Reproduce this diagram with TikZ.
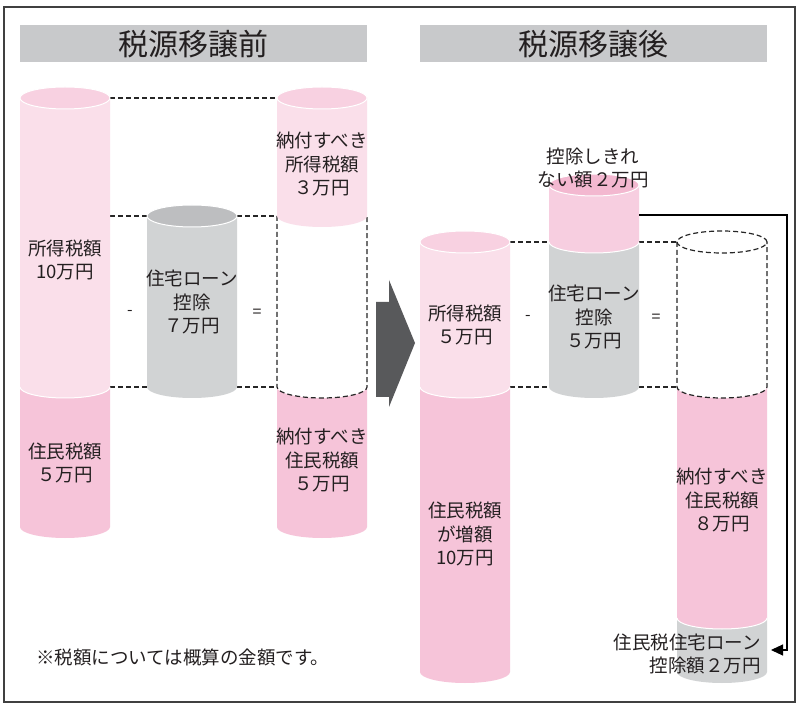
\documentclass[tikz,border=0pt]{standalone}
\usepackage{fontspec}
\setmainfont{Noto Sans CJK JP}
\usetikzlibrary{arrows.meta}
\definecolor{pinkL}{HTML}{FADFEA}
\definecolor{pinkLtop}{HTML}{F8D1E1}
\definecolor{pinkD}{HTML}{F6C4D9}
\definecolor{pinkM}{HTML}{F7CEE0}
\definecolor{pinkMtop}{HTML}{F3B8D0}
\definecolor{grayB}{HTML}{D1D3D4}
\definecolor{grayT}{HTML}{BDBEC0}
\definecolor{barG}{HTML}{C8C9CB}
\definecolor{arrG}{HTML}{58595B}
\definecolor{txt}{HTML}{231F20}
\newcommand{\cylseg}[4]{% xl, ytop, ybot, color
  \fill[#4] (#1,-#2) -- (#1,-#3) arc[start angle=180,end angle=360,x radius=45,y radius=11] -- (#1+90,-#2) -- cycle;}
\newcommand{\cylline}[2]{% xl, y : white boundary arc
  \draw[white, line width=1pt] (#1,-#2) arc[start angle=180,end angle=360,x radius=45,y radius=11];}
\newcommand{\cyltop}[3]{% xl, y, color
  \filldraw[fill=#3, draw=white, line width=1pt] (#1+45,-#2) ellipse[x radius=45,y radius=11];}
\tikzset{
  dsh/.style={draw=black!85, line width=1.2pt, dash pattern=on 5pt off 3pt},
  lbl/.style={text=txt, align=center, font=\fontsize{18.5}{23.5}\selectfont, inner sep=0pt},
  ttl/.style={text=txt, font=\fontsize{30}{34}\selectfont, inner sep=0pt},
  opr/.style={text=txt, font=\fontsize{16}{18}\selectfont, inner sep=0pt},
  bar/.style={fill=barG, draw=none}
}
\begin{document}
\begin{tikzpicture}[x=1pt,y=1pt]
\useasboundingbox (0,0) rectangle (796,-703);
\fill[white] (0,0) rectangle (796,-703);
\draw[draw=black!75, line width=1.2pt] (4,-7) rectangle (795,-702);

% title bars
\fill[bar] (20,-25) rectangle (367,-62);
\fill[bar] (420,-25) rectangle (767,-62);
\node[ttl] (t1) at (193.5,-44) {税源移譲前};
\node[ttl] (t2) at (593.5,-44) {税源移譲後};

% ===== BEFORE =====
\draw[dsh] (110,-98) -- (277,-98);
\draw[dsh] (110,-216) -- (147,-216);
\draw[dsh] (237,-216) -- (277,-216);
\draw[dsh] (110,-387) -- (147,-387);
\draw[dsh] (237,-387) -- (277,-387);

% left cylinder
\cylseg{20}{387}{527}{pinkD}
\cylseg{20}{98}{387}{pinkL}
\cylline{20}{387}
\cyltop{20}{98}{pinkLtop}

% gray cylinder
\cylseg{147}{216}{387}{grayB}
\cyltop{147}{216}{grayT}

% right cylinder (before)
\cylseg{277}{387}{527}{pinkD}
\cylseg{277}{216}{387}{white}
\draw[dsh] (277,-216) -- (277,-387) arc[start angle=180,end angle=360,x radius=45,y radius=11] -- (367,-216);
\cylseg{277}{98}{216}{pinkL}
\cyltop{277}{98}{pinkLtop}

% labels before
\node[lbl] (l1a) at (65,-260) {所得税額\\10万円};
\node[lbl] (l1b) at (65,-463) {住民税額\\５万円};
\node[lbl] (g1) at (192,-302) {住宅ローン\\控除\\７万円};
\node[lbl] (r1a) at (322,-164) {納付すべき\\所得税額\\３万円};
\node[lbl] (r1b) at (322,-460) {納付すべき\\住民税額\\５万円};
\node[opr] (m1) at (130,-313) {-};
\node[opr] (e1) at (257,-313) {=};

% big arrow
\fill[arrG] (376,-302) -- (389,-302) -- (389,-280) -- (415,-343) -- (389,-407) -- (389,-397) -- (376,-397) -- cycle;

% ===== AFTER =====
\draw[dsh] (510,-242) -- (549,-242);
\draw[dsh] (639,-242) -- (677,-242);
\draw[dsh] (510,-387) -- (549,-387);
\draw[dsh] (639,-387) -- (677,-387);

% cylinder A
\cylseg{420}{387}{672}{pinkD}
\cylseg{420}{242}{387}{pinkL}
\cylline{420}{387}
\cyltop{420}{242}{pinkLtop}

% cylinder B
\cylseg{549}{242}{387}{grayB}
\cylseg{549}{185}{242}{pinkM}
\cylline{549}{242}
\cyltop{549}{185}{pinkMtop}

% cylinder C
\cylseg{677}{618}{672}{grayB}
\cylseg{677}{387}{618}{pinkD}
\cylline{677}{618}
\cylseg{677}{242}{387}{white}
\draw[dsh] (677,-242) -- (677,-387) arc[start angle=180,end angle=360,x radius=45,y radius=11] -- (767,-242);
\draw[dsh] (722,-242) ellipse[x radius=45,y radius=11];

% labels after
\node[lbl] (a1) at (465,-325) {所得税額\\５万円};
\node[lbl] (a2) at (465,-534) {住民税額\\が増額\\10万円};
\node[lbl] (b0) at (593,-168) {控除しきれ\\ない額２万円};
\node[lbl] (b1) at (594,-317) {住宅ローン\\控除\\５万円};
\node[lbl] (c1) at (722,-500) {納付すべき\\住民税額\\８万円};
\node[lbl, align=right, anchor=east] (c2) at (761,-654) {住民税住宅ローン\\控除額２万円};
\node[opr] (m2) at (528,-318) {-};
\node[opr] (e2) at (656,-318) {=};

% connector
\coordinate (bR) at (639,-215);
\coordinate (turn) at (787,-215);
\coordinate (cEnd) at (771,-650);
\draw[black, line width=1.1pt, -{Triangle[length=12pt,width=11pt]}] (bR) -- (turn) |- (cEnd);

% footnote
\node[lbl, anchor=west] (fn) at (36,-657) {※税額については概算の金額です。};
\end{tikzpicture}
\end{document}
